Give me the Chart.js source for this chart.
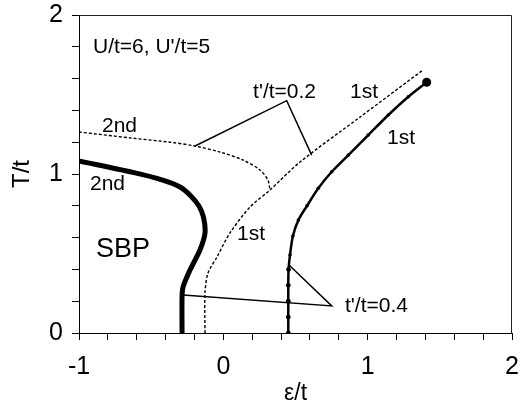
<!DOCTYPE html>
<html>
<head>
<meta charset="utf-8">
<script src="https://cdn.jsdelivr.net/npm/chart.js@4.4.1/dist/chart.umd.min.js"></script>
<style>
  html, body { margin: 0; padding: 0; background: #fff; }
  #wrap { width: 523px; height: 407px; }
</style>
</head>
<body>
<div id="wrap"><canvas id="phase" width="523" height="407"></canvas></div>
<script>
// t'/t = 0.4, second order (thick line)
const sec04X = [-1, -0.626, -0.420, -0.300, -0.225, -0.170, -0.138, -0.127, -0.162, -0.231, -0.279, -0.286, -0.286];
const sec04T = [1.082, 1.010, 0.962, 0.918, 0.862, 0.800, 0.730, 0.629, 0.522, 0.396, 0.289, 0.226, 0];

// t'/t = 0.2, second order (dotted)
const sec02X = [-1, -0.626, -0.370, -0.197, -0.023, 0.136, 0.254, 0.309, 0.323];
const sec02T = [1.264, 1.225, 1.200, 1.176, 1.138, 1.088, 1.025, 0.962, 0.899];

// t'/t = 0.2, first order (dotted)
const fst02X = [-0.127, -0.127, -0.106, -0.044, 0.046, 0.185, 0.323, 0.531, 0.947, 1.383];
const fst02T = [0, 0.252, 0.377, 0.478, 0.629, 0.792, 0.899, 1.075, 1.358, 1.654];

// t'/t = 0.4, first order (line with dots)
const fst04X = [0.450, 0.450, 0.450, 0.450, 0.452, 0.462, 0.482, 0.520, 0.580, 0.658, 0.751, 0.866, 1.004, 1.143, 1.282, 1.409];
const fst04T = [0, 0.100, 0.200, 0.300, 0.400, 0.491, 0.610, 0.710, 0.800, 0.910, 1.014, 1.119, 1.245, 1.371, 1.486, 1.577];

// leader lines of the t'/t labels
const lead02X = [-0.196, 0.439, 0.612];
const lead02T = [1.176, 1.461, 1.119];
const lead04X = [0.455, 0.751, -0.279];
const lead04T = [0.428, 0.170, 0.239];

// text in the plot: [text, x, T]
const notes = [
    ["U/t=6, U'/t=5", -0.903, 1.761],
    ['2nd', -0.841, 1.264],
    ['2nd', -0.924, 0.899],
    ['SBP', -0.882, 0.478],
    ['1st', 0.095, 0.585],
    ["t'/t=0.2", 0.206, 1.478],
    ['1st', 0.878, 1.478],
    ['1st', 1.134, 1.189],
    ["t'/t=0.4", 0.843, 0.132]
];

const xMin = -1, xMax = 2, tMin = 0, tMax = 2, step = 0.2;

const pts = (xs, ys) => xs.map((x, i) => ({ x: x, y: ys[i] }));
const FONT = '"Liberation Sans", Arial, sans-serif';

const frame = {
    id: 'frame',
    afterDraw(chart) {
        const { ctx, chartArea: a } = chart;
        ctx.save();
        ctx.strokeStyle = '#222';
        ctx.lineWidth = 1;
        ctx.beginPath();
        ctx.moveTo(a.left, a.top + 0.5);
        ctx.lineTo(a.right - 0.5, a.top + 0.5);
        ctx.lineTo(a.right - 0.5, a.bottom);
        ctx.stroke();

        ctx.fillStyle = '#000';
        ctx.textAlign = 'left';
        ctx.textBaseline = 'alphabetic';
        const sx = chart.scales.x, sy = chart.scales.y;
        notes.forEach(([txt, x, t]) => {
            ctx.font = (txt === 'SBP' ? '27px ' : '21px ') + FONT;
            ctx.fillText(txt, sx.getPixelForValue(x), sy.getPixelForValue(t));
        });
        ctx.restore();
    }
};

const tickLabel = v => Math.abs(v - Math.round(v)) < 1e-6 ? String(Math.round(v)) : '';

// fixed axis boxes, no extra room for overflowing tick labels
const fixBox = size => s => {
    if (s.isHorizontal()) s.height = size; else s.width = size;
    s.paddingLeft = s.paddingRight = s.paddingTop = s.paddingBottom = 0;
};

new Chart(document.getElementById('phase'), {
    type: 'scatter',
    data: {
        datasets: [
            { data: pts(sec04X, sec04T), showLine: true, borderColor: '#000', borderWidth: 5, pointRadius: 0, tension: 0.3 },
            { data: pts(sec02X, sec02T), showLine: true, borderColor: '#000', borderWidth: 1.4, borderDash: [3, 2], pointRadius: 0, tension: 0.3 },
            { data: pts(fst02X, fst02T), showLine: true, borderColor: '#000', borderWidth: 1.4, borderDash: [3, 2], pointRadius: 0, tension: 0.3 },
            {
                data: pts(fst04X, fst04T), showLine: true, borderColor: '#000', borderWidth: 2.5,
                pointRadius: fst04X.map((_, i) => i === fst04X.length - 1 ? 4.5 : (i < 5 ? 2.4 : 1.8)),
                pointBackgroundColor: '#000', pointBorderWidth: 0, tension: 0.3
            },
            { data: pts(lead02X, lead02T), showLine: true, borderColor: '#000', borderWidth: 1.5, pointRadius: 0, tension: 0 },
            { data: pts(lead04X, lead04T), showLine: true, borderColor: '#000', borderWidth: 1.5, pointRadius: 0, tension: 0 }
        ]
    },
    options: {
        responsive: false,
        animation: false,
        devicePixelRatio: 1,
        layout: { padding: { top: 15, right: 11, left: 0, bottom: 0 } },
        plugins: { legend: { display: false }, tooltip: { enabled: false } },
        scales: {
            x: {
                type: 'linear', min: xMin, max: xMax,
                afterFit: fixBox(74),
                ticks: { stepSize: step, autoSkip: false, maxRotation: 0, padding: 12, color: '#000',
                         font: { family: FONT, size: 25 }, callback: tickLabel },
                grid: { drawOnChartArea: false, drawTicks: true, tickLength: 7, color: '#000' },
                border: { display: true, color: '#000' },
                title: { display: true, text: 'ε/t', color: '#000', font: { family: FONT, size: 23 }, padding: { top: 8, bottom: 0 } }
            },
            y: {
                type: 'linear', min: tMin, max: tMax,
                afterFit: fixBox(79),
                ticks: { stepSize: step, autoSkip: false, padding: 9, color: '#000',
                         font: { family: FONT, size: 25 }, callback: tickLabel },
                grid: { drawOnChartArea: false, drawTicks: true, tickLength: 7, color: '#000' },
                border: { display: true, color: '#000' },
                title: { display: true, text: 'T/t', color: '#000', font: { family: FONT, size: 24 }, padding: { top: 8, bottom: 0 } }
            }
        }
    },
    plugins: [frame]
});
</script>
</body>
</html>
